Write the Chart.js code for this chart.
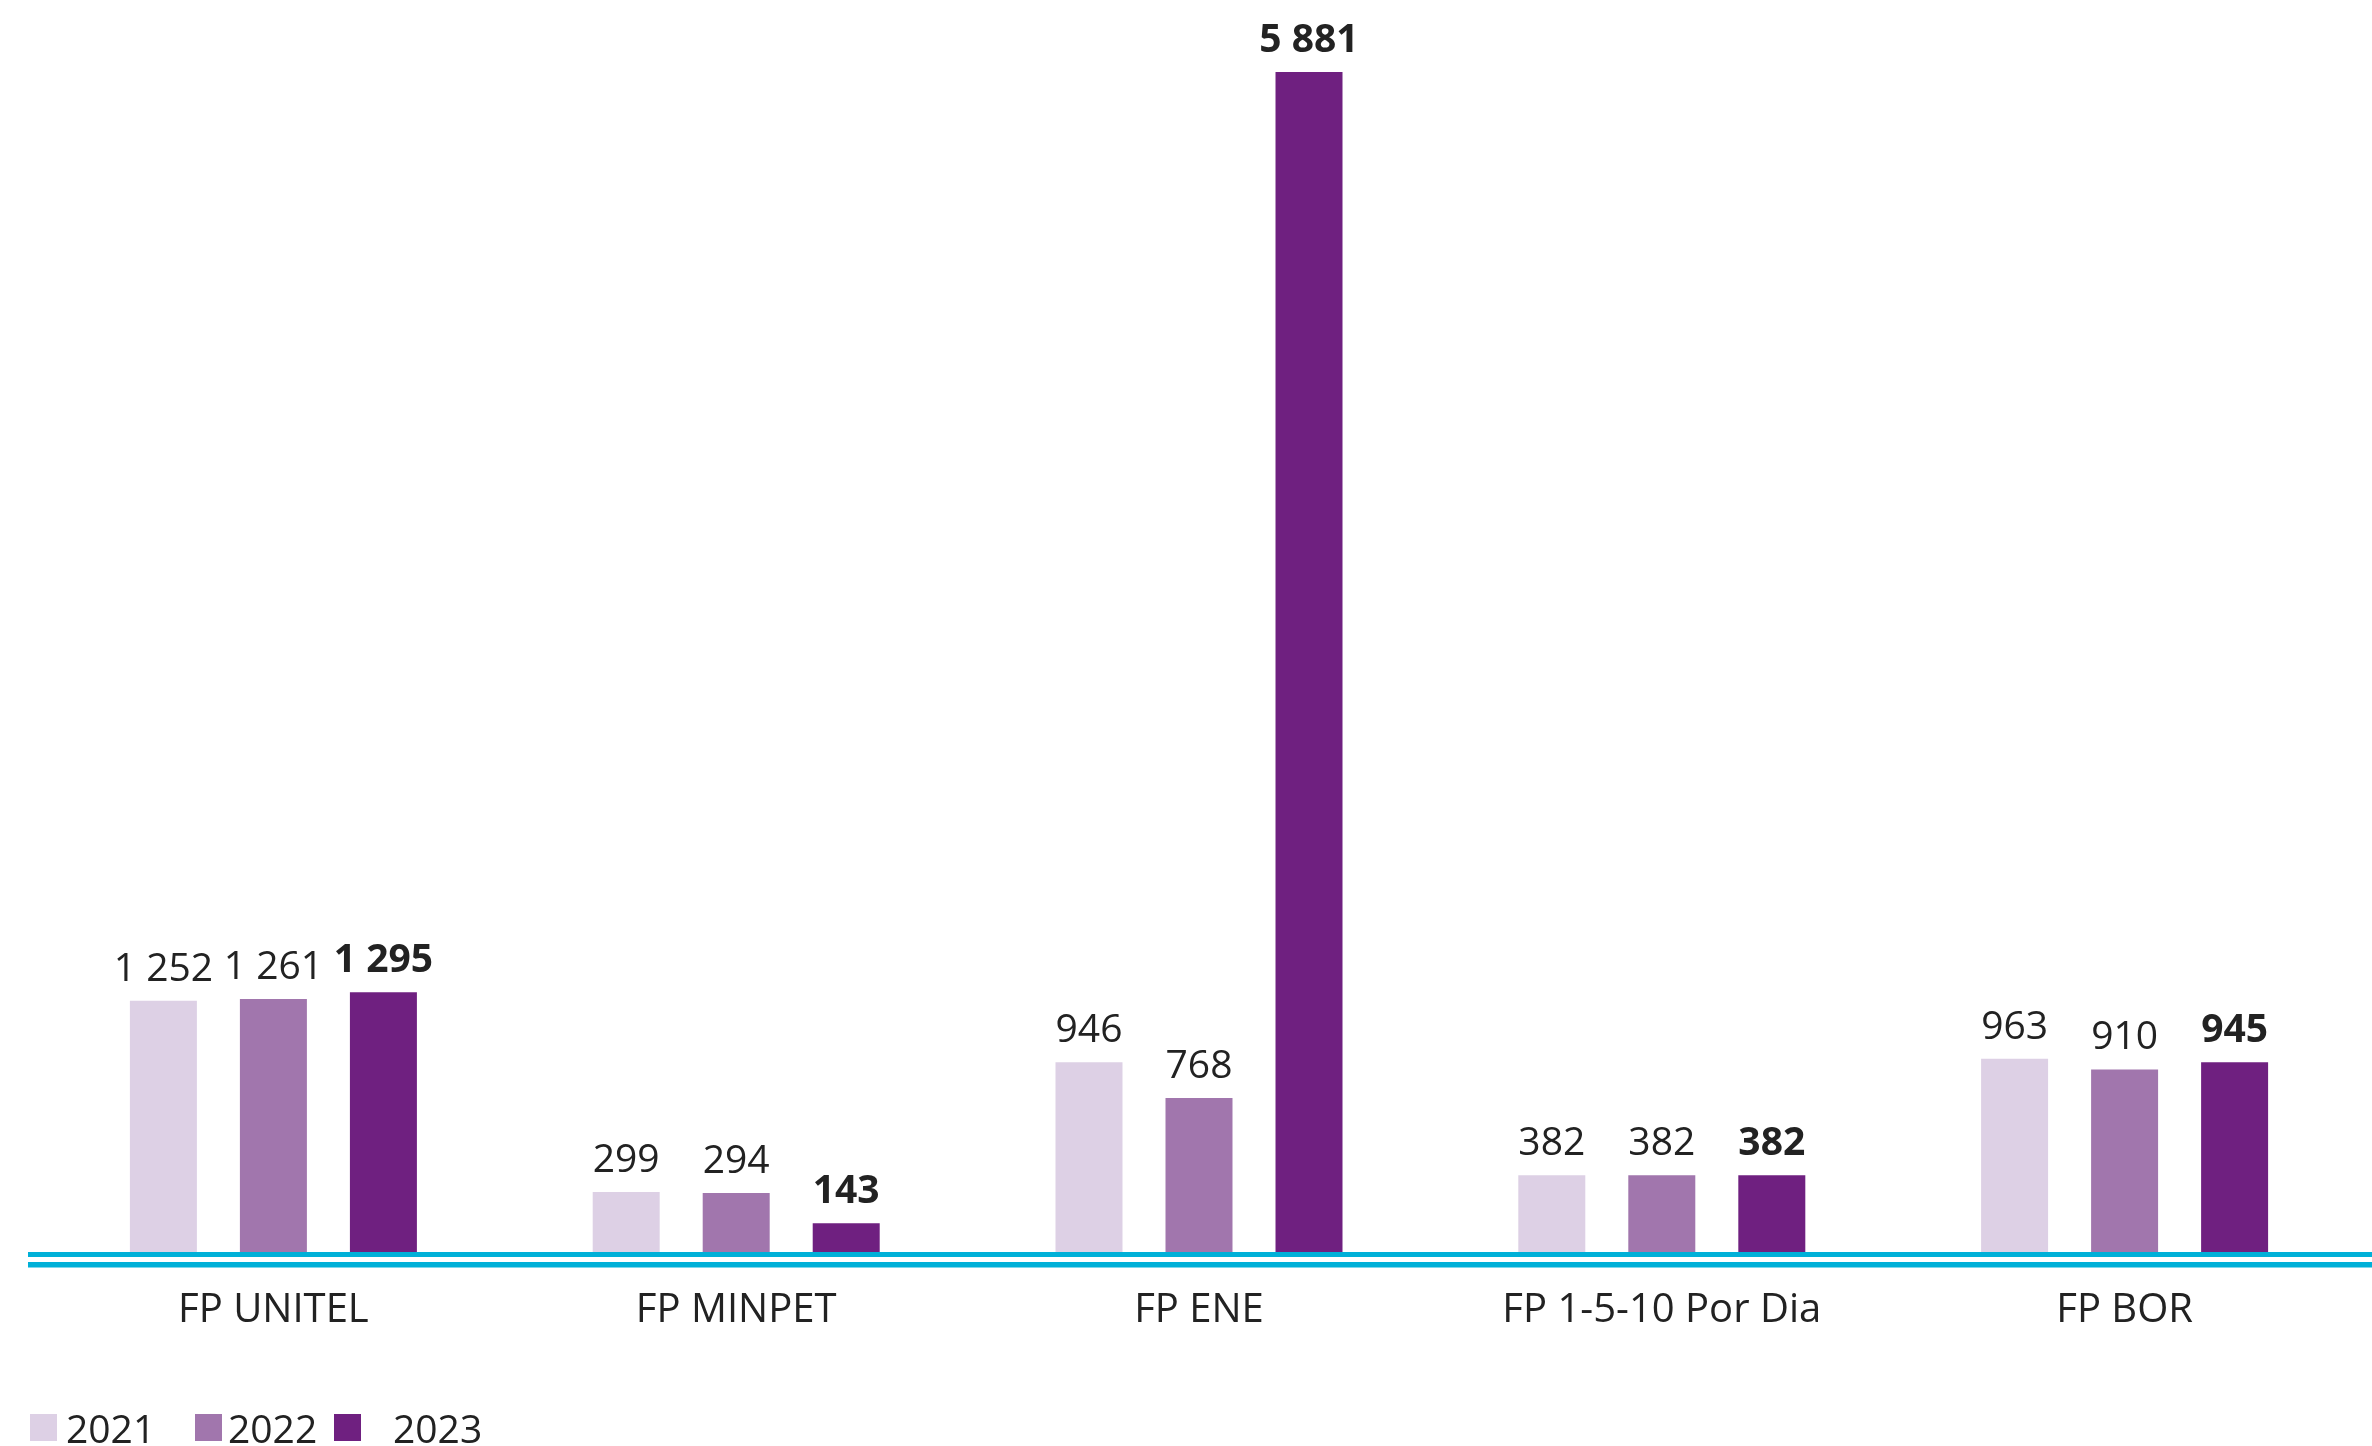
<!DOCTYPE html>
<html>
<head>
<meta charset="utf-8">
<script src="https://cdn.jsdelivr.net/npm/chart.js@4/dist/chart.umd.min.js"></script>
<style>
html,body{margin:0;padding:0;background:#fff;}
#wrap{width:2372px;height:1446px;position:relative;}
</style>
</head>
<body>
<div id="wrap"><canvas id="c" width="2372" height="1446"></canvas></div>
<script>
const categories = ['FP UNITEL', 'FP MINPET', 'FP ENE', 'FP 1-5-10 Por Dia', 'FP BOR'];
const seriesNames = ['2021', '2022', '2023'];
const values2021 = [1252, 299, 946, 382, 963];
const values2022 = [1261, 294, 768, 382, 910];
const values2023 = [1295, 143, 5881, 382, 945];
const colors = ['#DDD0E5', '#A176AD', '#6F2080'];
const axisColor = '#00B0D8';
const textColor = '#222222';
const FONT = "'Open Sans', 'Noto Sans', sans-serif";

function fmt(v){
  const s = String(v);
  return s.replace(/\B(?=(\d{3})+(?!\d))/g, ' ');
}

const deco = {
  id: 'deco',
  afterDatasetsDraw(chart){
    const ctx = chart.ctx;
    const y0 = chart.scales.y.getPixelForValue(0);
    ctx.save();
    // double axis line
    ctx.fillStyle = axisColor;
    ctx.fillRect(28, y0, chart.width - 28, 5);
    ctx.fillRect(28, y0 + 10, chart.width - 28, 5.5);
    // value labels
    ctx.fillStyle = textColor;
    ctx.textAlign = 'center';
    ctx.textBaseline = 'alphabetic';
    chart.data.datasets.forEach((ds, di) => {
      const meta = chart.getDatasetMeta(di);
      ctx.font = (di === 2 ? '700 ' : '400 ') + '39px ' + FONT;
      meta.data.forEach((bar, i) => {
        ctx.fillText(fmt(ds.data[i]), bar.x, bar.y - 20);
      });
    });
    // legend
    const sq = [30, 195, 334];
    const tx = [66, 228, 393];
    ctx.textAlign = 'left';
    ctx.font = '400 39px ' + FONT;
    chart.data.datasets.forEach((ds, di) => {
      ctx.fillStyle = ds.backgroundColor;
      ctx.fillRect(sq[di], 1414, 27, 27);
      ctx.fillStyle = textColor;
      ctx.fillText(ds.label, tx[di], 1443);
    });
    ctx.restore();
  }
};

new Chart(document.getElementById('c'), {
  type: 'bar',
  data: {
    labels: categories,
    datasets: [
      { label: seriesNames[0], data: values2021, backgroundColor: colors[0] },
      { label: seriesNames[1], data: values2022, backgroundColor: colors[1] },
      { label: seriesNames[2], data: values2023, backgroundColor: colors[2] }
    ]
  },
  options: {
    responsive: false,
    animation: false,
    devicePixelRatio: 1,
    categoryPercentage: 0.7131,
    barPercentage: 0.609,
    layout: { padding: { left: 42, right: 16, top: 48, bottom: 0 } },
    plugins: { legend: { display: false }, tooltip: { enabled: false } },
    scales: {
      x: {
        grid: { display: false, drawTicks: false },
        border: { display: false },
        ticks: { color: textColor, font: { family: FONT, size: 40 }, padding: 35, maxRotation: 0, autoSkip: false },
        afterFit(s){ s.height = 194; }
      },
      y: {
        display: false,
        min: 0,
        max: 6000
      }
    }
  },
  plugins: [deco]
});
</script>
</body>
</html>
